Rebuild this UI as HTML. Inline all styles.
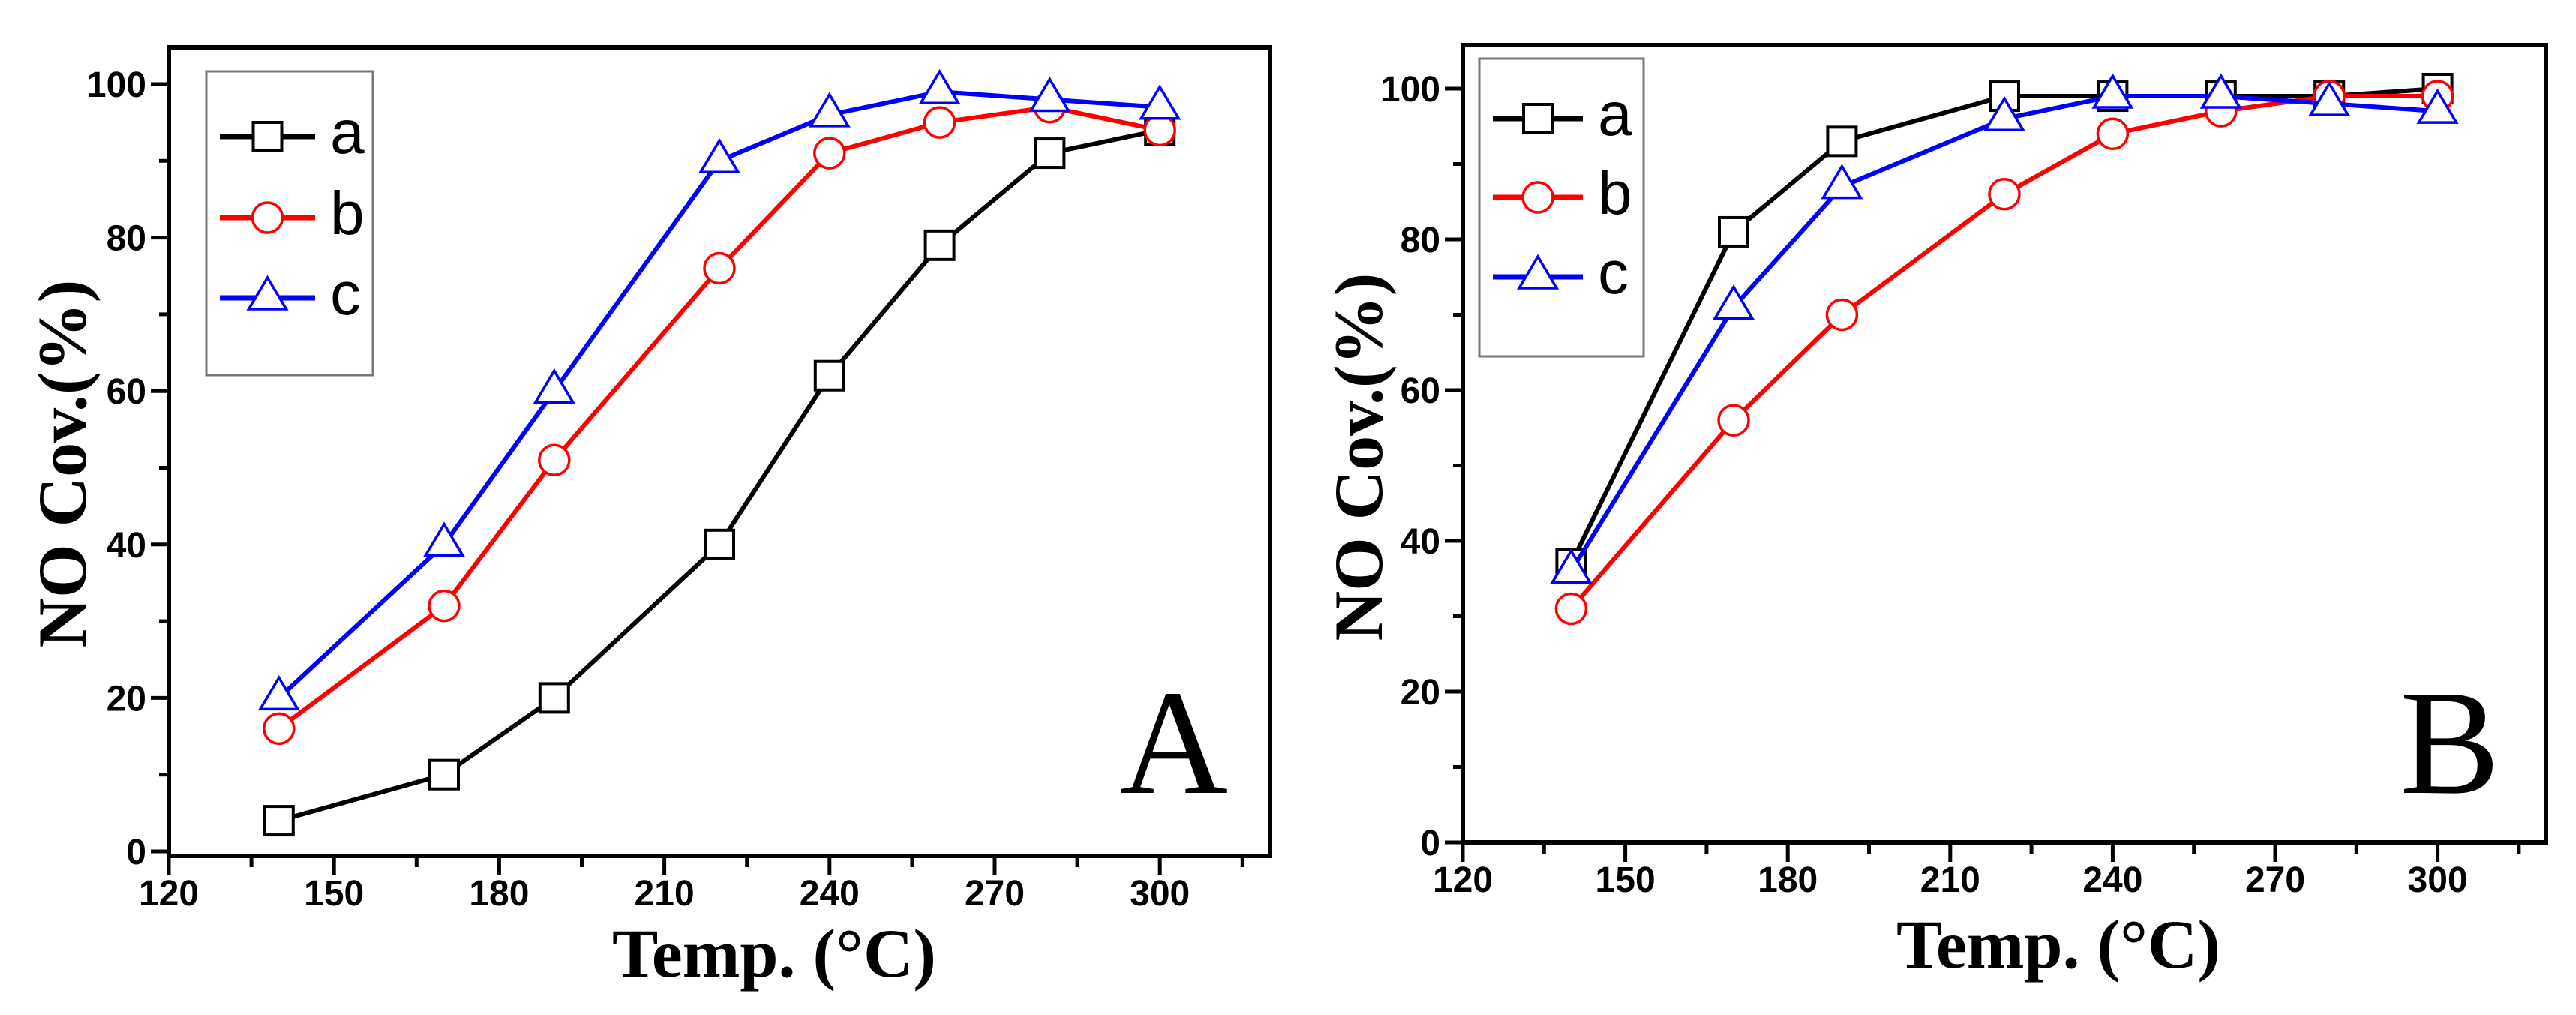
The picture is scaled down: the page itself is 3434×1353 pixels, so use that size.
<!DOCTYPE html>
<html><head><meta charset="utf-8"><style>
html,body{margin:0;padding:0;background:#fff;}
svg{display:block;}
</style></head><body>
<svg id="chart" width="3434" height="1353" viewBox="0 0 3434 1353" xmlns="http://www.w3.org/2000/svg">
<g id="pa"></g>
<g id="pb"></g>
</svg>
<script>
const temps = [140, 170, 190, 220, 240, 260, 280, 300];
const aSeriesA = [4, 10, 20, 40, 62, 79, 91, 94];
const aSeriesB = [16, 32, 51, 76, 91, 95, 97, 94];
const aSeriesC = [20, 40, 60, 90, 96, 99, 98, 97];
const bSeriesA = [37, 81, 93, 99, 99, 99, 99, 100];
const bSeriesB = [31, 56, 70, 86, 94, 97, 99, 99];
const bSeriesC = [36, 71, 87, 96, 99, 99, 98, 97];
const xTickLabels = [120, 150, 180, 210, 240, 270, 300];
const yTickLabels = [0, 20, 40, 60, 80, 100];
const seriesNames = ['a', 'b', 'c'];

const NS = 'http://www.w3.org/2000/svg';
function mk(parent, tag, attrs, text) {
  const e = document.createElementNS(NS, tag);
  for (const k in attrs) e.setAttribute(k, attrs[k]);
  if (text !== undefined) e.textContent = text;
  parent.appendChild(e);
  return e;
}
const colors = ['#000000', '#ff0000', '#0000ff'];
const shapes = ['square', 'circle', 'triangle'];

function marker(g, shape, cx, cy, color, name) {
  let e;
  if (shape === 'square') {
    e = mk(g, 'rect', {x: cx - 19, y: cy - 19, width: 38, height: 38, fill: '#fff', stroke: color, 'stroke-width': 4});
  } else if (shape === 'circle') {
    e = mk(g, 'circle', {cx: cx, cy: cy, r: 20, fill: '#fff', stroke: color, 'stroke-width': 3.5});
  } else {
    e = mk(g, 'polygon', {points: (cx) + ',' + (cy - 27) + ' ' + (cx - 25) + ',' + (cy + 15) + ' ' + (cx + 25) + ',' + (cy + 15), fill: '#fff', stroke: color, 'stroke-width': 3.5});
  }
  
  
  return e;
}

function drawPanel(g, cfg, series, letter) {
  const xs = v => cfg.x120 + (v - 120) * cfg.px;
  const ys = v => cfg.y0 - v * cfg.py;
  const L = cfg.x120, R = xs(320), T = cfg.top, B = cfg.axisY;
  for (let v = 120; v <= 315; v += 15) {
    const major = (v - 120) % 30 === 0;
    const t = mk(g, 'line', {x1: xs(v), x2: xs(v), y1: B, y2: B + (major ? 26 : 15), stroke: '#000', 'stroke-width': 5});
    
    
  }
  for (let v = 0; v <= 100; v += 10) {
    const major = v % 20 === 0;
    const t = mk(g, 'line', {x1: L - (major ? 24 : 13), x2: L, y1: ys(v), y2: ys(v), stroke: '#000', 'stroke-width': 5});
    
    
  }
  xTickLabels.forEach(v => {
    const t = mk(g, 'text', {x: xs(v), y: B + 66, 'text-anchor': 'middle', 'font-family': 'Liberation Sans, sans-serif', 'font-weight': 'bold', 'font-size': 48}, String(v));
    
    
  });
  yTickLabels.forEach(v => {
    const t = mk(g, 'text', {x: L - 30, y: ys(v) + 17, 'text-anchor': 'end', 'font-family': 'Liberation Sans, sans-serif', 'font-weight': 'bold', 'font-size': 48}, String(v));
    
    
  });
  const fr = mk(g, 'rect', {x: L, y: T, width: R - L, height: B - T, fill: 'none', stroke: '#000', 'stroke-width': 6});
  
  
  series.forEach((vals, i) => {
    const sg = mk(g, 'g', {});
    
    
    const pts = vals.map((v, j) => xs(temps[j]) + ',' + ys(v)).join(' ');
    const pl = mk(sg, 'polyline', {points: pts, fill: 'none', stroke: colors[i], 'stroke-width': 6, 'stroke-linejoin': 'round'});
    
    
    vals.forEach((v, j) => marker(sg, shapes[i], xs(temps[j]), ys(v), colors[i], 'point-' + seriesNames[i]));
  });
  const lg = mk(g, 'g', {});
  
  
  const lb = cfg.leg;
  const box = mk(lg, 'rect', {x: lb.x, y: lb.y, width: lb.w, height: lb.h, fill: '#fff', stroke: '#777', 'stroke-width': 3});
  
  
  lb.rows.forEach((ry, i) => {
    const eg = mk(lg, 'g', {});
    
    
    const ln = mk(eg, 'line', {x1: lb.lx1, x2: lb.lx2, y1: ry, y2: ry, stroke: colors[i], 'stroke-width': 7});
    
    
    marker(eg, shapes[i], (lb.lx1 + lb.lx2) / 2, ry, colors[i], 'legend-marker');
    const tx = mk(eg, 'text', {x: lb.tx, y: ry + 22, 'font-family': 'Liberation Sans, sans-serif', 'font-size': 82}, seriesNames[i]);
    
    
  });
  const xt = mk(g, 'text', {x: cfg.xtX, y: cfg.xtY, 'text-anchor': 'middle', 'font-family': 'Liberation Serif, serif', 'font-weight': 'bold', 'font-size': 92}, 'Temp. (°C)');
  
  
  const yt = mk(g, 'text', {x: 0, y: 0, 'text-anchor': 'middle', 'font-family': 'Liberation Serif, serif', 'font-weight': 'bold', 'font-size': 92, transform: 'translate(' + cfg.ytX + ',' + cfg.ytY + ') rotate(-90)'}, 'NO Cov.(%)');
  
  
  const pl = mk(g, 'text', {x: cfg.lblX, y: cfg.lblY, 'text-anchor': 'middle', 'font-family': 'Liberation Serif, serif', 'font-size': 200}, letter);
  
  
}

drawPanel(document.getElementById('pa'), {
  x120: 225, px: 7.34, y0: 1135, py: 10.23, top: 63, axisY: 1141,
  leg: {x: 275, y: 95, w: 222, h: 405, rows: [182, 290, 397], lx1: 293, lx2: 420, tx: 440},
  xtX: 1032, xtY: 1302, ytX: 114, ytY: 618, lblX: 1565, lblY: 1057
}, [aSeriesA, aSeriesB, aSeriesC], 'A');

drawPanel(document.getElementById('pb'), {
  x120: 1950, px: 7.22, y0: 1123, py: 10.05, top: 60, axisY: 1123,
  leg: {x: 1972, y: 78, w: 219, h: 397, rows: [158, 263, 369], lx1: 1990, lx2: 2110, tx: 2130},
  xtX: 2744, xtY: 1290, ytX: 1842, ytY: 609, lblX: 3266, lblY: 1057
}, [bSeriesA, bSeriesB, bSeriesC], 'B');
</script>
</body></html>
